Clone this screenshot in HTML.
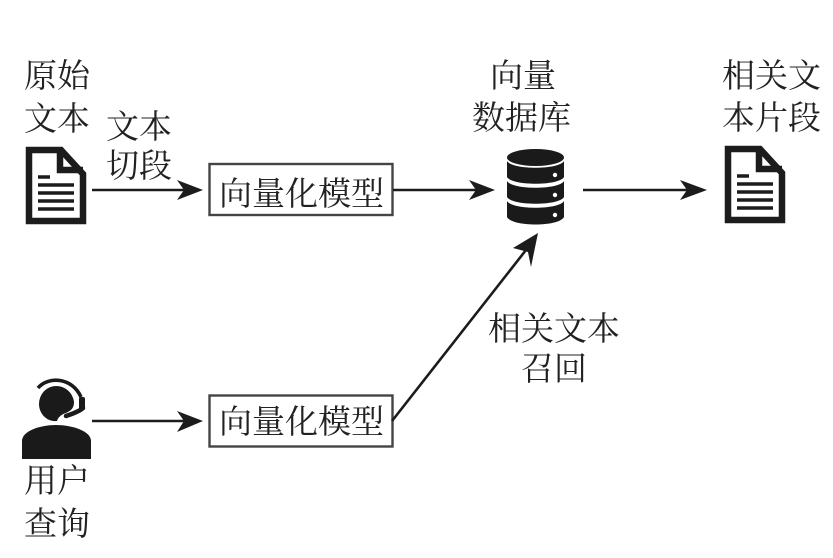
<!DOCTYPE html>
<html><head><meta charset="utf-8">
<style>
html,body{margin:0;padding:0;background:#fff;}
svg{display:block;}
text{font-family:"Liberation Serif","Noto Serif CJK SC",serif;font-size:33px;fill:#222;}
</style></head><body>
<svg width="833" height="558" viewBox="0 0 833 558" xmlns="http://www.w3.org/2000/svg">
<defs>
<g id="doc">
  <path d="M29 150H61L83 174V221H29Z" fill="#fff" stroke="#1c1c1c" stroke-width="6.5"/>
  <path d="M60 150V170H83" fill="none" stroke="#1c1c1c" stroke-width="6.5"/>
  <path d="M38 177H50M38 185H74M38 193H74M38 201H74M38 209H74" stroke="#1c1c1c" stroke-width="3.6" fill="none"/>
</g>
<g id="vec">
  <text x="219" y="0">向量化模型</text>
</g>
</defs>

<!-- labels -->
<text x="24" y="87">原始</text>
<text x="24" y="130">文本</text>
<text x="106" y="138">文本</text>
<text x="106" y="177">切段</text>
<text x="490" y="87">向量</text>
<text x="472" y="129">数据库</text>
<text x="722" y="87">相关文</text>
<text x="722" y="129">本片段</text>
<text x="488" y="340">相关文本</text>
<text x="521" y="380">召回</text>
<text x="24" y="492">用户</text>
<text x="24" y="535">查询</text>

<!-- doc icons -->
<use href="#doc"/>
<use href="#doc" x="699" y="-1"/>

<!-- boxes -->
<rect x="209.500" y="164" width="183" height="51" fill="#fff" stroke="#444" stroke-width="2.4"/>
<rect x="209.500" y="395.500" width="183" height="51" fill="#fff" stroke="#444" stroke-width="2.4"/>
<use href="#vec" y="205"/>
<use href="#vec" y="433"/>

<!-- arrows -->
<g stroke="#1c1c1c" stroke-width="2.6" fill="none">
  <path d="M92 190H185"/>
  <path d="M393 190H478"/>
  <path d="M583 190H690"/>
  <path d="M92 421H185"/>
  <path d="M392 421L526 250"/>
</g>
<g fill="#1c1c1c">
  <path d="M177 180L203 190L177 200L184 190Z"/>
  <path d="M469 180L495 190L469 200L476 190Z"/>
  <path d="M680 180L707 190L680 200L687 190Z"/>
  <path d="M177 411L203 421L177 432L184 421Z"/>
  <path d="M538 233L513 248L528 252L531 267Z"/>
</g>

<!-- database -->
<g>
  <ellipse cx="535.500" cy="157.500" rx="28.500" ry="8.500" fill="#1a1a1a"/>
  <path d="M507 161C512 170 559 170 564 161V177C559 186 512 186 507 177Z" fill="#1a1a1a"/>
  <path d="M507 181C512 190 559 190 564 181V197C559 206 512 206 507 197Z" fill="#1a1a1a"/>
  <path d="M507 201C512 210 559 210 564 201V217C559 227 512 227 507 217Z" fill="#1a1a1a"/>
  <circle cx="555" cy="175" r="2.200" fill="#fff"/>
  <circle cx="555" cy="195" r="2.200" fill="#fff"/>
  <circle cx="555" cy="215" r="2.200" fill="#fff"/>
</g>

<!-- user -->
<g fill="#1a1a1a">
  <path d="M56 386A18 18 0 0 1 74 402C74 409 70 411 66 413C60 415 58 418 57 421C46 422 39 413 39 404A17 18 0 0 1 56 386Z"/>
  <path d="M38 388C48 376 72 377 81 397" fill="none" stroke="#1a1a1a" stroke-width="3.600"/>
  <rect x="79" y="397" width="6" height="13" rx="2"/>
  <path d="M83 408C80 411 72 414 66 416" fill="none" stroke="#1a1a1a" stroke-width="4.500" stroke-linecap="round"/>
  <path d="M22 459V441C22 431 40 425 56 425C72 425 91 431 91 441V459Z"/>
</g>
</svg>
</body></html>
